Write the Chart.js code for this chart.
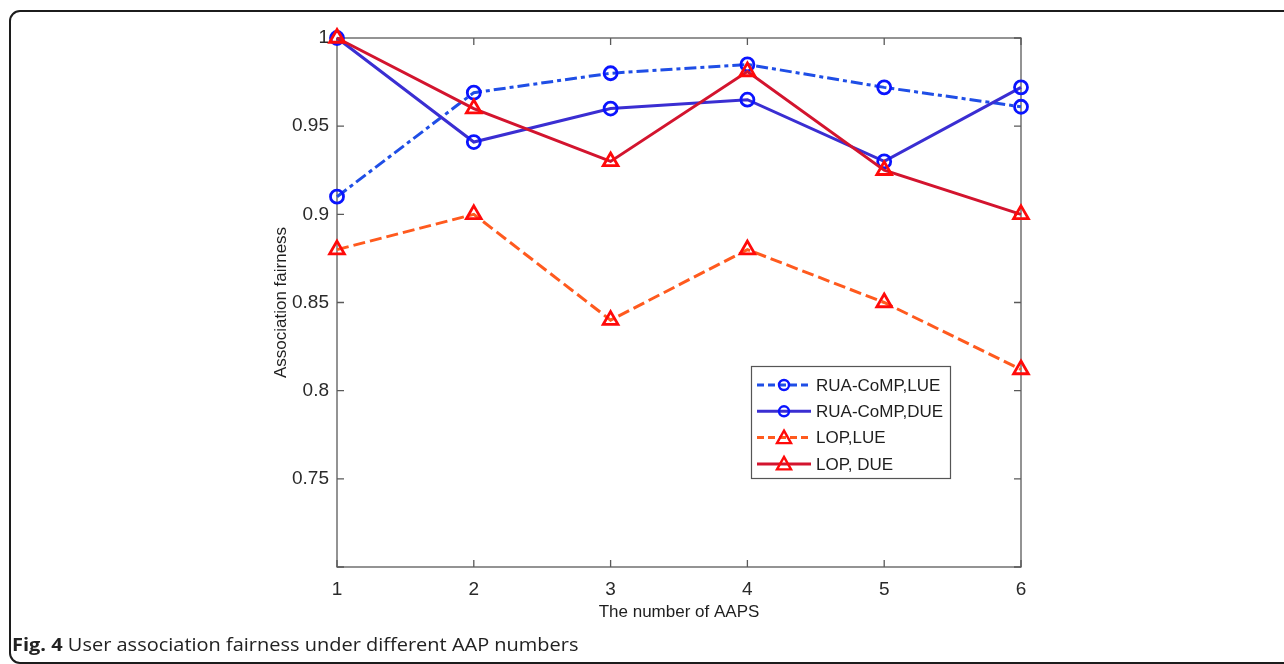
<!DOCTYPE html>
<html>
<head>
<meta charset="utf-8">
<script src="https://cdn.jsdelivr.net/npm/chart.js@4.4.0/dist/chart.umd.min.js"></script>
<style>
body { margin: 0; background: #fff; }
#wrap { position: relative; width: 1284px; height: 664px; overflow: hidden; }
#frame { position: absolute; left: 9px; top: 10px; width: 1300px; height: 650px; border: 2px solid #1c1c1c; border-radius: 11px; }
#cv { position: absolute; left: 0; top: 0; }
#caption { position: absolute; left: 12px; top: 632px; font-family: "Open Sans", "Liberation Sans", sans-serif; font-size: 18px; color: #222; white-space: nowrap; transform-origin: 0 0; }
</style>
</head>
<body>
<div id="wrap">
  <div id="frame"></div>
  <canvas id="cv" width="1284" height="664"></canvas>
  <div id="caption"><b>Fig. 4</b> User association fairness under different AAP numbers</div>
</div>
<script>
// numero de AAPs
var numAAP = ['1', '2', '3', '4', '5', '6'];

var ruaLue = [0.910, 0.969, 0.980, 0.985, 0.972, 0.961];
var ruaDue = [1.000, 0.941, 0.960, 0.965, 0.930, 0.972];
var lopLue = [0.880, 0.900, 0.840, 0.880, 0.850, 0.812];
var lopDue = [1.000, 0.960, 0.930, 0.981, 0.925, 0.900];

var nombres = ['RUA-CoMP,LUE', 'RUA-CoMP,DUE', 'LOP,LUE', 'LOP, DUE'];

var fuente = '"Liberation Sans", Arial, sans-serif';

// ajustar ancho del pie de figura
var cap = document.getElementById('caption');
cap.style.transform = 'scaleX(' + (566 / cap.offsetWidth) + ')';

// caja y marcas hacia adentro, estilo matlab
const cajaEjes = {
    id: 'cajaEjes',
    beforeDatasetsDraw(chart) {
        const ctx = chart.ctx;
        const a = chart.chartArea;
        const sx = chart.scales.x;
        const sy = chart.scales.y;
        ctx.save();
        ctx.strokeStyle = '#5a5a5a';
        ctx.lineWidth = 1.3;
        ctx.strokeRect(a.left, a.top, a.right - a.left, a.bottom - a.top);
        ctx.beginPath();
        sx.ticks.forEach((t, i) => {
            const px = sx.getPixelForTick(i);
            ctx.moveTo(px, a.bottom); ctx.lineTo(px, a.bottom - 7);
            ctx.moveTo(px, a.top); ctx.lineTo(px, a.top + 7);
        });
        sy.ticks.forEach((t) => {
            const py = sy.getPixelForValue(t.value);
            ctx.moveTo(a.left, py); ctx.lineTo(a.left + 7, py);
            ctx.moveTo(a.right, py); ctx.lineTo(a.right - 7, py);
        });
        ctx.stroke();
        ctx.restore();
    }
};

// leyenda dentro del area
const leyenda = {
    id: 'leyenda',
    afterDraw(chart) {
        const ctx = chart.ctx;
        const x0 = 751, y0 = 366, w = 199, h = 112;
        ctx.save();
        ctx.fillStyle = '#fff';
        ctx.fillRect(x0, y0, w, h);
        ctx.strokeStyle = '#555';
        ctx.lineWidth = 1.2;
        ctx.strokeRect(x0 + 0.5, y0 + 0.5, w, h);
        chart.data.datasets.forEach((ds, i) => {
            const y = 385 + i * 26.3;
            ctx.strokeStyle = ds.borderColor;
            ctx.lineWidth = ds.borderWidth;
            ctx.setLineDash(ds.borderDash.length ? [7, 4] : []);
            ctx.beginPath();
            ctx.moveTo(757, y);
            ctx.lineTo(811, y);
            ctx.stroke();
            ctx.setLineDash([]);
            ctx.strokeStyle = ds.pointBorderColor;
            ctx.lineWidth = 2.4;
            ctx.beginPath();
            if (ds.pointStyle === 'circle') {
                ctx.arc(784, y, 5, 0, Math.PI * 2);
            } else {
                ctx.moveTo(784, y - 7);
                ctx.lineTo(791, y + 5.5);
                ctx.lineTo(777, y + 5.5);
                ctx.closePath();
            }
            ctx.stroke();
            ctx.fillStyle = '#1e1e1e';
            ctx.font = '17px ' + fuente;
            ctx.textBaseline = 'middle';
            ctx.fillText(ds.label, 816, y + 1);
        });
        ctx.restore();
    }
};

function serie(label, data, color, dash, marca, orden) {
    return {
        label: label,
        data: data,
        borderColor: color,
        borderWidth: 3,
        borderDash: dash,
        pointStyle: marca,
        pointRadius: marca === 'circle' ? 6.5 : 8.5,
        pointBorderWidth: 2.8,
        pointBorderColor: marca === 'circle' ? '#0a14ff' : '#ff0a0a',
        pointBackgroundColor: 'rgba(0,0,0,0)',
        tension: 0,
        clip: false,
        order: orden
    };
}

const ctx = document.getElementById('cv').getContext('2d');
const chart = new Chart(ctx, {
    type: 'line',
    data: {
        labels: numAAP,
        datasets: [
            serie(nombres[0], ruaLue, '#1f4ee6', [12, 4, 4, 4], 'circle', 3),
            serie(nombres[1], ruaDue, '#3a2ed2', [], 'circle', 2),
            serie(nombres[2], lopLue, '#ff5a1e', [12, 5], 'triangle', 1),
            serie(nombres[3], lopDue, '#d3142e', [], 'triangle', 0)
        ]
    },
    options: {
        responsive: false,
        animation: false,
        devicePixelRatio: 1,
        layout: { padding: { left: 267, top: 38, right: 263, bottom: 37 } },
        plugins: {
            legend: { display: false },
            tooltip: { enabled: false }
        },
        scales: {
            x: {
                offset: false,
                grid: { display: false, drawTicks: false },
                border: { display: false },
                ticks: { color: '#2a2a2a', padding: 11, font: { family: fuente, size: 19 }, maxRotation: 0 },
                title: { display: true, text: 'The number of AAPS', color: '#1e1e1e', font: { family: fuente, size: 17 } },
                afterFit: (s) => { s.height = 60; }
            },
            y: {
                min: 0.7,
                max: 1,
                grid: { display: false, drawTicks: false },
                border: { display: false },
                ticks: {
                    stepSize: 0.05,
                    padding: 8,
                    color: '#2a2a2a',
                    font: { family: fuente, size: 19 },
                    callback: function(v) { return v < 0.72 ? '' : String(+v.toFixed(2)); }
                },
                title: { display: true, text: 'Association fairness', color: '#1e1e1e', font: { family: fuente, size: 17 } },
                afterFit: (s) => { s.width = 70; }
            }
        }
    },
    plugins: [cajaEjes, leyenda]
});
</script>
</body>
</html>
